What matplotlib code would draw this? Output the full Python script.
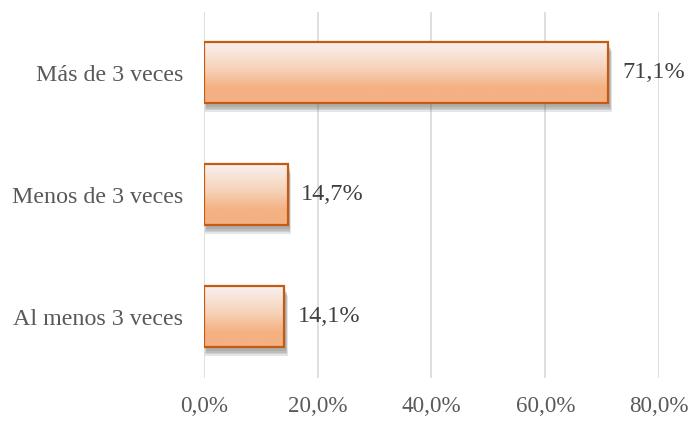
import matplotlib.pyplot as plt
import numpy as np
from matplotlib.patches import Rectangle
from matplotlib.colors import LinearSegmentedColormap

categories = ["Al menos 3 veces", "Menos de 3 veces", "Más de 3 veces"]
values = [14.1, 14.7, 71.1]
value_labels = ["14,1%", "14,7%", "71,1%"]
xticks = [0, 20, 40, 60, 80]
xtick_labels = ["0,0%", "20,0%", "40,0%", "60,0%", "80,0%"]


def main():
    plt.rcParams["font.family"] = ["Liberation Serif", "DejaVu Serif"]
    fig = plt.figure(figsize=(6.91, 4.22), dpi=100)
    ax = fig.add_axes([0.2952, 0.1043, 0.6585, 0.8673])

    bar_h = 0.5
    grad = LinearSegmentedColormap.from_list(
        "g", [(0, "#f9f2f2"), (0.45, "#f6d2b8"), (0.75, "#f4b183"), (1, "#f4b183")])
    img = np.linspace(0, 1, 256).reshape(-1, 1)

    for i, v in enumerate(values):
        y0 = i - bar_h / 2
        # soft shadow, a few stacked layers
        for k in range(4):
            grow = 0.08 * k
            ax.add_patch(Rectangle((0.35 - grow, y0 - 0.03 - 0.012 * k), v + 2 * grow, bar_h,
                                   facecolor="#606060", edgecolor="none",
                                   alpha=0.16, zorder=2))
        rect = Rectangle((0, y0), v, bar_h, facecolor="none",
                         edgecolor="#c55a11", linewidth=1.6, zorder=4)
        ax.add_patch(rect)
        im = ax.imshow(img, cmap=grad, aspect="auto", zorder=3,
                       extent=(0, v, y0, y0 + bar_h), origin="upper")
        im.set_clip_path(rect)
        ax.text(v + 2.4, i, value_labels[i], va="center", ha="left",
                fontsize=17.5, color="#404040", zorder=5)

    ax.set_xlim(0, 80)
    ax.set_ylim(-0.5, 2.5)
    ax.set_xticks(xticks)
    ax.set_xticklabels(xtick_labels)
    ax.set_yticks(range(len(categories)))
    ax.set_yticklabels(categories)
    ax.tick_params(axis="y", length=0, labelsize=17.3, pad=15)
    ax.tick_params(axis="x", length=0, labelsize=16.6, pad=13)
    for lbl in ax.get_yticklabels() + ax.get_xticklabels():
        lbl.set_color("#595959")
    ax.grid(True, axis="x", color="#d9d9d9", linewidth=1.2, zorder=0)
    ax.set_axisbelow(True)
    for s in ax.spines.values():
        s.set_visible(False)

    fig.savefig("out.png", dpi=100)


if __name__ == "__main__":
    main()
